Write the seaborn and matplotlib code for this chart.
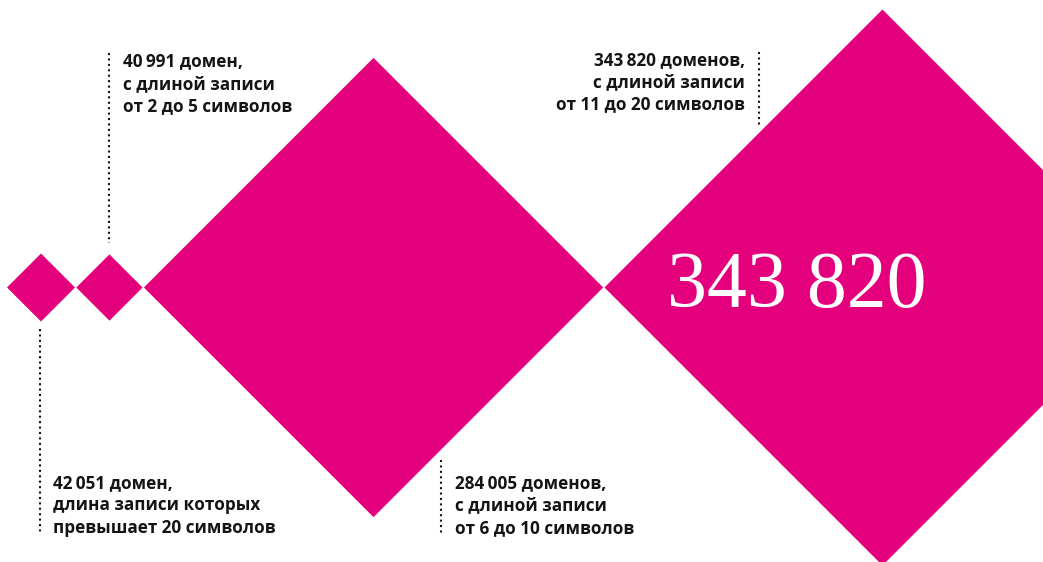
import matplotlib
matplotlib.use('Agg')
import matplotlib.pyplot as plt
import seaborn as sns

# ---- data ----
categories = ['более 20 символов', '2–5 символов', '6–10 символов', '11–20 символов']
values = [42051, 40991, 284005, 343820]
label_lines = [
    ['42\u2009051 домен,', 'длина записи которых', 'превышает 20 символов'],
    ['40\u2009991 домен,', 'с длиной записи', 'от 2 до 5 символов'],
    ['284\u2009005 доменов,', 'с длиной записи', 'от 6 до 10 символов'],
    ['343\u2009820 доменов,', 'с длиной записи', 'от 11 до 20 символов'],
]
big_label = '343 820'

# ---- style ----
sns.set_theme(style='white')
plt.rcParams['font.family'] = ['Open Sans', 'DejaVu Sans']
PINK = '#E4007C'
INK = '#141414'

W, H = 1043, 562
fig = plt.figure(figsize=(W / 100, H / 100), dpi=100)
ax = fig.add_axes([0, 0, 1, 1])
ax.set_xlim(0, W)
ax.set_ylim(H, 0)
ax.axis('off')

# diamonds: half-diagonal proportional to value
scale = 278.0 / max(values)
cy = 287.5
x = 7.0
gap = 1.3
centers = []
for v in values:
    h = v * scale
    cx = x + h
    ax.fill([cx - h, cx, cx + h, cx], [cy, cy - h, cy, cy + h],
            color=PINK, linewidth=0, antialiased=True)
    centers.append(cx)
    x = cx + h + gap

# big number inside the largest diamond
ax.text(797, 307, big_label, color='white', fontsize=57.5,
        family=['Liberation Serif', 'DejaVu Serif'], ha='center', va='baseline')

# dotted leader lines (pixel layout)
leaders = [(39.5, 329, 534), (108.5, 53, 243), (441, 460, 535), (759, 52, 127)]
for lx, y0, y1 in leaders:
    ax.plot([lx, lx], [y0, y1], color=INK, lw=1.5,
            linestyle=(0, (1, 1.6)), dash_capstyle='butt')

# annotation texts (x, baselines, ha)
text_layout = [
    (53, [488, 510.5, 533], 'left'),
    (123, [66.5, 89, 111.5], 'left'),
    (455, [488, 510.5, 533], 'left'),
    (745, [65.5, 87.5, 109.5], 'right'),
]
for lines, (tx, bases, ha) in zip(label_lines, text_layout):
    for line, by in zip(lines, bases):
        ax.text(tx, by, line, fontsize=12.3, fontweight='bold', color=INK,
                ha=ha, va='baseline', family=['Open Sans', 'DejaVu Sans'])

fig.savefig('out.png', dpi=100, facecolor='white')
